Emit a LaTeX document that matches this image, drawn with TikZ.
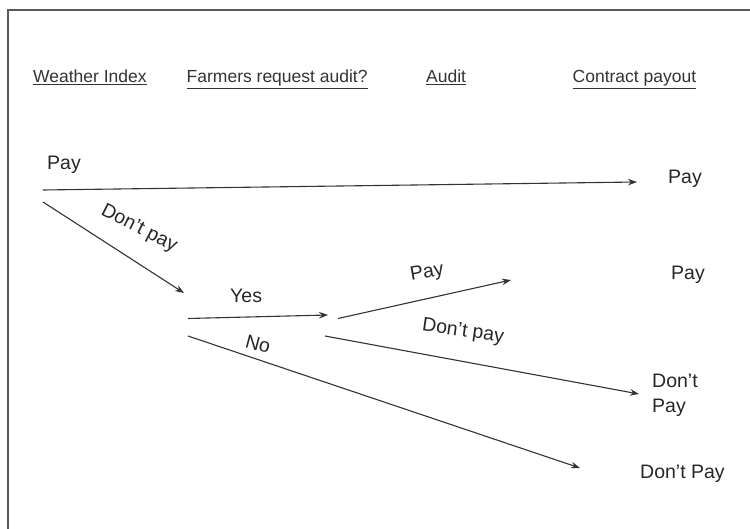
\documentclass[tikz,border=0pt]{standalone}
\usepackage{fontspec}
\setmainfont{Liberation Sans}
\usetikzlibrary{arrows.meta}
\begin{document}
\begin{tikzpicture}[x=1pt,y=-1pt,
  lbl/.style={font=\fontsize{19.5}{24}\selectfont, inner sep=0pt, text=black!85},
  hdr/.style={font=\fontsize{17.5}{20}\selectfont, inner sep=0pt, text=black!80},
  arr/.style={draw=black!80, line width=1.1pt, -{Stealth[length=9pt,width=6.5pt]}},
  frame/.style={draw=black!65, line width=2pt}]
\useasboundingbox (0,0) rectangle (750,529);
\draw[frame] (8,529) -- (8,10) -- (750,10);
% headers
\node[hdr, anchor=base west] (h1) at (33,83) {\underline{Weather Index}};
\node[hdr, anchor=base west] (h2) at (186.5,83) {\underline{Farmers request audit?}};
\node[hdr, anchor=base west] (h3) at (426,83) {\underline{Audit}};
\node[hdr, anchor=base west] (h4) at (572.5,83) {\underline{Contract payout}};
% coordinates
\coordinate (a1) at (43,190);
\coordinate (a2) at (637,182);
\coordinate (b1) at (43,202);
\coordinate (b2) at (184,293);
\coordinate (c1) at (188,318.5);
\coordinate (c2) at (328,315);
\coordinate (d1) at (188,336);
\coordinate (d2) at (580,468);
\coordinate (e1) at (338,318.5);
\coordinate (e2) at (511,280);
\coordinate (f1) at (325,336);
\coordinate (f2) at (639,394);
% arrows
\draw[arr] (a1) -- (a2);
\draw[arr] (b1) -- (b2);
\draw[arr] (c1) -- (c2);
\draw[arr] (d1) -- (d2);
\draw[arr] (e1) -- (e2);
\draw[arr] (f1) -- (f2);
% branch labels
\node[lbl, anchor=base west] (lpay) at (47,170) {Pay};
\node[lbl, rotate=-27] (ldp) at (139,229) {Don't pay};
\node[lbl, anchor=base west] (lyes) at (230,303) {Yes};
\node[lbl, rotate=-15] (lno) at (258,344) {No};
\node[lbl, rotate=10] (lapay) at (427,273) {Pay};
\node[lbl, rotate=-8] (ladp) at (463,332) {Don't pay};
% outcomes
\node[lbl, anchor=base west] (o1) at (668,184) {Pay};
\node[lbl, anchor=base west] (o2) at (671,280) {Pay};
\node[lbl, anchor=base west] (o3a) at (652,388) {Don't};
\node[lbl, anchor=base west] (o3b) at (652,413) {Pay};
\node[lbl, anchor=base west] (o4) at (640,478) {Don't Pay};
\end{tikzpicture}
\end{document}
